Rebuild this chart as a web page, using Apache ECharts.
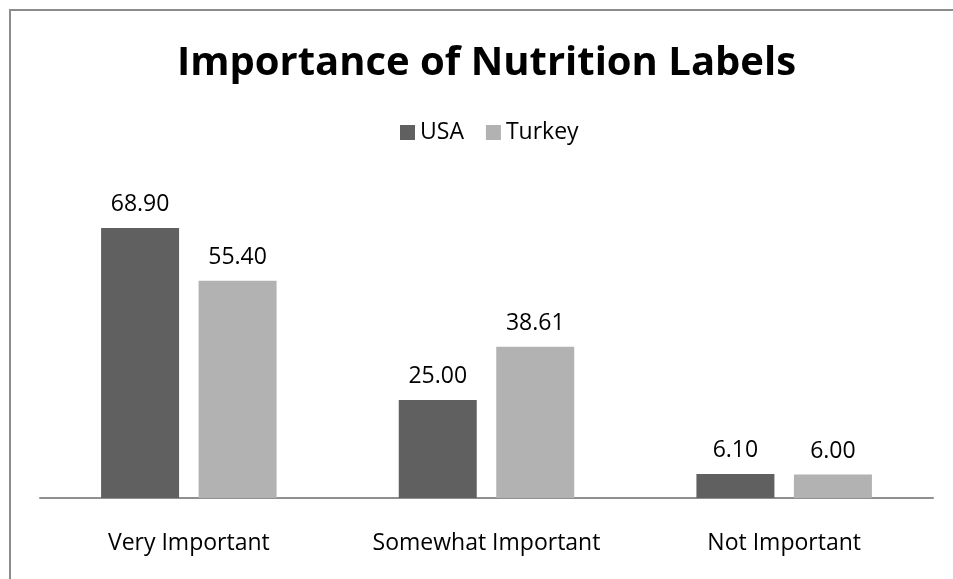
<!DOCTYPE html>
<html>
<head>
<meta charset="utf-8">
<script src="https://cdn.jsdelivr.net/npm/echarts@6/dist/echarts.min.js"></script>
<style>
  html, body { margin: 0; padding: 0; background: #fff; }
  #chart { width: 953px; height: 579px; }
</style>
</head>
<body>
<div id="chart"></div>
<script>
const categories = ['Very Important', 'Somewhat Important', 'Not Important'];
const usaValues = [68.90, 25.00, 6.10];
const turkeyValues = [55.40, 38.61, 6.00];
const seriesNames = ['USA', 'Turkey'];

const FONT = '"Open Sans", Lato, sans-serif';

const chart = echarts.init(document.getElementById('chart'));

const labelStyle = {
  show: true,
  position: 'top',
  distance: 12,
  color: '#000',
  fontFamily: FONT,
  fontSize: 23,
  formatter: p => p.value.toFixed(2)
};

chart.setOption({
  animation: false,
  backgroundColor: '#fff',
  title: {
    text: 'Importance of Nutrition Labels',
    left: 486.5,
    top: 43.5,
    padding: 0,
    textAlign: 'center',
    textStyle: { fontFamily: FONT, fontWeight: 'bold', fontSize: 40, color: '#000' }
  },
  legend: {
    data: seriesNames,
    top: 121,
    left: 400,
    padding: 0,
    icon: 'rect',
    itemWidth: 15,
    itemHeight: 15,
    itemGap: 22,
    textStyle: { fontFamily: FONT, fontSize: 23, color: '#000' }
  },
  graphic: [{
    // chart-area frame; its right and bottom edges run past the canvas
    type: 'rect',
    silent: true,
    shape: { x: 10, y: 10, width: 1200, height: 1200 },
    style: { fill: 'none', stroke: '#8c8c8c', lineWidth: 2 }
  }],
  grid: { left: 40, right: 20, top: 184.4, bottom: 81 },
  xAxis: {
    type: 'category',
    data: categories,
    axisLine: { lineStyle: { color: '#8f8f8f', width: 2 } },
    axisTick: { show: false },
    axisLabel: { color: '#000', fontFamily: FONT, fontSize: 23, margin: 34 }
  },
  yAxis: {
    type: 'value',
    min: 0,
    max: 80,
    show: false,
    splitLine: { show: false }
  },
  series: [
    {
      name: seriesNames[0],
      type: 'bar',
      data: usaValues,
      barWidth: 78,
      barGap: '25%',
      itemStyle: { color: '#606060' },
      label: labelStyle
    },
    {
      name: seriesNames[1],
      type: 'bar',
      data: turkeyValues,
      barWidth: 78,
      itemStyle: { color: '#b2b2b2' },
      label: labelStyle
    }
  ]
});
</script>
</body>
</html>
